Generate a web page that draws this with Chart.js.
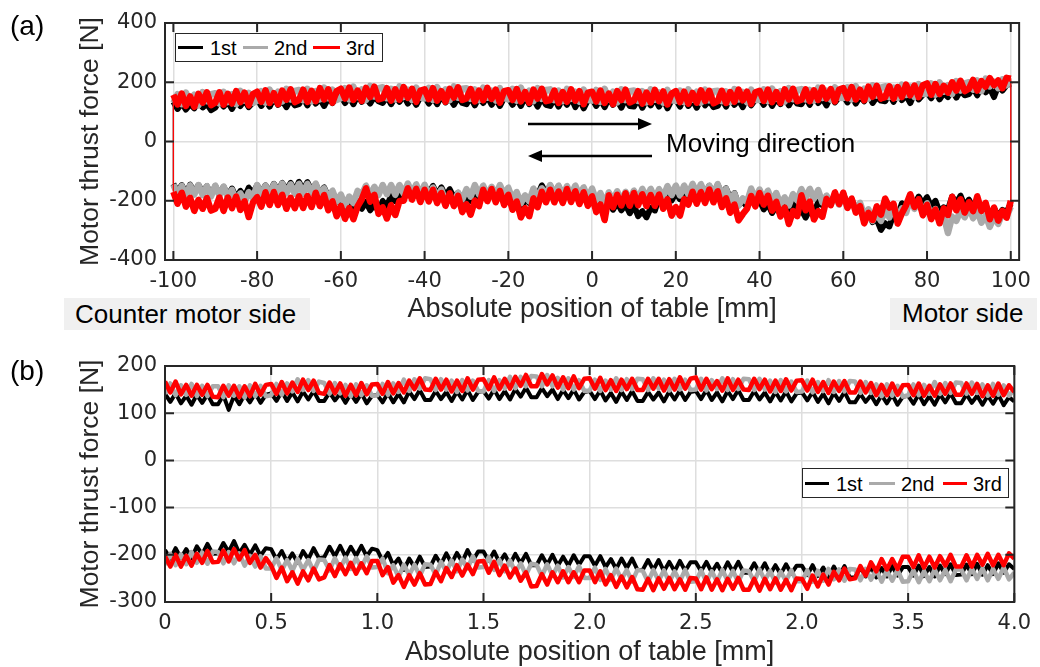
<!DOCTYPE html>
<html><head><meta charset="utf-8">
<script src="https://cdn.jsdelivr.net/npm/chart.js@4.4.1/dist/chart.umd.min.js"></script>
<style>
html,body{margin:0;padding:0;background:#fff;}
#wrap{position:relative;width:1040px;height:667px;overflow:hidden;font-family:"Liberation Sans",Arial,sans-serif;}
canvas{position:absolute;left:0;}
.t{position:absolute;white-space:nowrap;line-height:1;color:#000;}
.box{position:absolute;background:#f0f0f0;}
.leg{position:absolute;box-sizing:border-box;border:1.5px solid #262626;background:#fff;}
.ln{position:absolute;height:3px;}
</style></head><body>
<div id="wrap">
<canvas id="c1" width="1040" height="335" style="top:0"></canvas>
<canvas id="c2" width="1040" height="332" style="top:335px"></canvas>

<div class="t" style="left:10px;top:12px;font-size:28px;">(a)</div>
<div class="t" style="left:10px;top:357px;font-size:28px;">(b)</div>
<div class="box" style="left:64px;top:298px;width:246px;height:32px;"></div>
<div class="t" style="left:75px;top:301px;font-size:26px;">Counter motor side</div>
<div class="box" style="left:890px;top:298px;width:147px;height:32px;"></div>
<div class="t" style="left:902px;top:300px;font-size:26px;">Motor side</div>
<div class="t" style="left:666px;top:130px;font-size:26px;">Moving direction</div>

<div class="leg" style="left:175px;top:33px;width:208px;height:29px;"></div>
<div class="ln" style="left:178px;top:46px;width:25px;background:#000;"></div>
<div class="t" style="left:210px;top:38px;font-size:20px;">1st</div>
<div class="ln" style="left:243px;top:46px;width:25px;background:#aaaaaa;"></div>
<div class="t" style="left:274px;top:38px;font-size:20px;">2nd</div>
<div class="ln" style="left:313px;top:46px;width:27px;background:#ff0000;"></div>
<div class="t" style="left:346px;top:38px;font-size:20px;">3rd</div>

<div class="leg" style="left:802px;top:468px;width:207px;height:30px;"></div>
<div class="ln" style="left:805px;top:482px;width:24px;background:#000;"></div>
<div class="t" style="left:836px;top:474px;font-size:20px;">1st</div>
<div class="ln" style="left:869px;top:482px;width:26px;background:#aaaaaa;"></div>
<div class="t" style="left:901px;top:474px;font-size:20px;">2nd</div>
<div class="ln" style="left:943px;top:482px;width:24px;background:#ff0000;"></div>
<div class="t" style="left:973px;top:474px;font-size:20px;">3rd</div>
</div>
<script>
// ---------- Panel (a): position -100..100 mm, 1 mm step ----------
const xTop = []; for (let x = -100; x <= 100; x++) xTop.push(x);
const xTopTicks = [-100,-80,-60,-40,-20,0,20,40,60,80,100];
const xTopLabels = ['-100','-80','-60','-40','-20','0','20','40','60','80','100'];
const yTopTicks = [-400,-200,0,200,400];
const yTopLabels = ['-400','-200','0','200','400'];

// forward stroke (upper band), indexed by xTop
const red1Fwd = [
158,125,162,120,152,117,161,131,166,123, 131,166,124,161,128,170,133,165,122,160,
168,134,173,130,163,126,172,141,176,133, 140,175,134,171,136,180,142,176,131,170,
178,145,182,140,172,137,181,150,185,142, 146,180,138,176,141,184,147,178,134,172,
176,143,180,138,170,134,178,148,183,140, 145,177,135,172,139,181,144,175,131,170,
173,140,177,135,167,131,175,145,178,136, 140,172,130,167,134,176,138,170,126,165,
168,135,172,130,162,126,170,140,175,132, 138,170,128,165,132,174,136,169,125,162,
170,133,168,128,164,131,173,137,171,129, 136,171,130,167,134,175,139,168,127,166,
171,137,175,133,167,130,176,142,178,136, 141,176,136,173,140,182,145,177,135,175,
180,146,184,142,175,139,185,151,188,145, 150,186,145,184,150,192,156,189,150,190,
196,158,194,160,188,165,200,172,205,170, 178,208,172,204,185,214,190,206,180,215,
212];
const gray1Fwd = [
130,160,126,165,133,158,122,167,136,160, 163,128,168,133,160,126,171,138,164,130,
137,170,131,175,140,168,135,178,142,171, 174,139,178,135,170,142,182,146,175,140,
146,180,142,185,150,176,140,188,152,180, 183,146,178,142,186,150,175,140,182,148,
145,181,140,184,150,176,139,186,148,178, 180,144,176,140,182,148,172,138,180,146,
142,178,138,182,146,172,136,180,144,174, 176,140,172,136,178,144,168,134,175,140,
138,174,134,178,142,168,132,176,140,170, 172,137,170,132,176,141,166,131,174,139,
137,172,133,176,141,168,131,175,139,170, 171,136,169,133,177,142,167,132,175,140,
140,176,136,179,144,170,134,180,143,174, 177,142,174,138,182,147,172,141,183,148,
147,183,142,187,152,178,144,190,155,182, 186,150,182,147,192,157,185,150,194,160,
162,196,158,200,168,190,160,204,172,196, 200,175,206,170,212,186,202,180,210,190,
205];
const black1Fwd = [
134,110,130,108,126,112,136,115,128,106, 114,138,118,134,110,136,120,140,116,132,
144,120,140,118,146,124,138,116,142,122, 126,148,122,150,128,144,120,146,130,152,
154,130,150,126,156,134,148,128,152,136, 130,152,126,150,134,156,128,148,124,150,
152,128,148,126,154,132,146,124,150,130, 126,150,122,148,130,152,124,146,120,148,
148,124,146,120,150,126,144,118,148,124, 120,146,118,144,124,148,116,142,112,140,
144,120,142,116,146,124,140,114,144,120, 118,144,114,140,122,146,118,142,112,140,
142,118,146,120,140,114,144,122,138,116, 120,144,118,146,124,140,116,148,122,142,
146,124,148,120,144,126,150,122,146,128, 126,150,124,152,130,146,122,154,132,150,
154,132,156,128,152,136,158,130,150,138, 136,160,134,162,140,156,130,164,142,158,
166,146,170,142,164,150,176,148,172,156, 160,182,156,186,166,180,150,188,172,190,
195];
// return stroke (lower band), indexed by xTop (drawn from +100 back to -100)
const red1Ret = [
-170,-210,-173,-220,-190,-234,-197,-227,-191,-233, -227,-189,-234,-189,-225,-186,-231,-202,-255,-206,
-188,-220,-172,-214,-171,-214,-180,-227,-190,-225, -185,-224,-184,-221,-173,-218,-181,-232,-202,-252,
-218,-261,-225,-262,-219,-195,-158,-203,-180,-244, -222,-260,-215,-248,-201,-200,-158,-196,-160,-204,
-163,-202,-163,-208,-174,-217,-175,-218,-183,-238, -212,-247,-200,-218,-163,-201,-161,-205,-167,-214,
-180,-230,-203,-256,-225,-252,-192,-222,-170,-205, -163,-205,-169,-207,-161,-204,-168,-211,-172,-217,
-185,-238,-213,-265,-182,-222,-180,-216,-175,-217, -174,-215,-178,-218,-181,-217,-179,-227,-195,-250,
-222,-250,-195,-213,-170,-210,-171,-207,-162,-205, -168,-221,-192,-240,-213,-266,-245,-227,-184,-219,
-174,-213,-183,-233,-204,-253,-223,-278,-235,-252, -182,-232,-203,-263,-235,-254,-194,-215,-172,-211,
-173,-224,-193,-240,-218,-276,-241,-265,-219,-247, -193,-223,-210,-277,-242,-215,-178,-221,-195,-249,
-214,-262,-230,-276,-226,-248,-187,-232,-195,-240, -205,-235,-185,-234,-207,-262,-223,-267,-234,-257,
-200];
const gray1Ret = [
-145,-179,-150,-183,-148,-179,-147,-181,-151,-185, -149,-182,-152,-188,-163,-202,-175,-206,-171,-191,
-147,-180,-149,-180,-145,-172,-142,-175,-145,-176, -143,-176,-143,-173,-142,-181,-158,-195,-166,-203,
-179,-216,-186,-208,-167,-179,-149,-183,-153,-181, -147,-178,-147,-180,-147,-176,-142,-173,-145,-180,
-146,-184,-156,-191,-162,-204,-184,-210,-173,-196, -161,-186,-147,-179,-149,-183,-153,-181,-147,-179,
-156,-196,-171,-208,-182,-202,-159,-190,-158,-183, -147,-179,-149,-183,-151,-181,-149,-181,-155,-191,
-159,-200,-174,-211,-172,-199,-168,-201,-170,-197, -166,-195,-160,-191,-160,-193,-161,-187,-151,-181,
-149,-182,-149,-178,-143,-174,-144,-179,-149,-178, -144,-183,-160,-201,-176,-216,-192,-204,-159,-195,
-162,-197,-166,-202,-174,-212,-189,-216,-178,-199, -161,-192,-160,-193,-164,-206,-183,-213,-180,-213,
-184,-223,-196,-231,-207,-249,-229,-268,-243,-268, -232,-256,-219,-256,-226,-241,-192,-227,-204,-240,
-209,-251,-228,-266,-252,-309,-254,-268,-233,-256, -221,-259,-234,-274,-249,-288,-253,-278,-242,-254,
-220];
const black1Ret = [
-143,-170,-147,-174,-146,-172,-147,-172,-151,-179, -151,-178,-153,-182,-159,-190,-167,-187,-156,-175,
-148,-173,-148,-173,-143,-167,-140,-163,-140,-166, -136,-163,-137,-166,-144,-177,-155,-187,-171,-205,
-193,-224,-205,-231,-202,-227,-204,-232,-213,-235, -201,-218,-183,-202,-169,-191,-159,-181,-151,-174,
-150,-175,-150,-180,-155,-184,-161,-190,-173,-205, -181,-201,-167,-189,-159,-186,-159,-185,-160,-185,
-163,-202,-192,-231,-192,-207,-169,-182,-148,-176, -149,-176,-151,-180,-158,-185,-159,-186,-162,-188,
-168,-206,-193,-231,-204,-230,-206,-232,-213,-242, -216,-252,-235,-256,-224,-233,-187,-208,-178,-199,
-173,-195,-167,-189,-156,-177,-150,-173,-150,-176, -146,-178,-158,-192,-174,-215,-202,-220,-186,-215,
-198,-229,-210,-241,-217,-247,-216,-235,-208,-247, -231,-257,-230,-243,-204,-215,-185,-208,-180,-202,
-178,-212,-196,-231,-214,-250,-236,-272,-263,-298, -276,-287,-245,-253,-209,-228,-194,-212,-186,-210,
-188,-219,-200,-238,-222,-230,-186,-208,-183,-218, -196,-224,-198,-228,-214,-250,-225,-254,-231,-238,
-210];

// ---------- Panel (b): position 0..4 mm, 0.025 mm step ----------
const xBot = []; for (let i = 0; i <= 160; i++) xBot.push(+(i * 0.025).toFixed(3));
const xBotTicks = [0,0.5,1,1.5,2,2.5,3,3.5,4];
const xBotLabels = ['0','0.5','1.0','1.5','2.0','2.5','2.0','3.5','4.0'];
const yBotTicks = [-300,-200,-100,0,100,200];
const yBotLabels = ['-300','-200','-100','0','100','200'];

const red2Up = [
167,144,167,140,160,137,160,139,160,135, 134,158,137,158,134,157,136,162,139,160,
162,141,166,142,165,145,171,149,169,143, 141,165,142,163,137,160,138,164,140,161,
162,141,166,142,164,144,169,151,174,150, 149,173,150,171,146,169,147,174,150,171,
172,151,176,151,173,152,177,158,181,157, 157,183,161,180,154,176,153,178,153,173,
174,152,175,149,170,147,171,151,173,149, 149,173,152,173,148,172,150,176,152,173,
176,150,173,151,168,148,174,149,171,150, 149,173,151,171,146,169,147,172,148,169,
170,148,171,145,166,143,167,147,168,144, 144,167,144,164,138,160,138,163,139,159,
160,138,163,137,158,137,161,141,163,139, 139,163,141,162,136,159,137,163,138,159,
145];
const gray2Up = [
141,163,138,159,139,162,136,158,136,157, 157,134,159,137,157,133,159,136,158,136,
138,162,139,163,146,172,149,170,147,167, 164,141,164,142,160,136,161,138,159,137,
138,162,139,163,145,171,147,172,152,174, 172,149,172,150,169,145,170,148,169,147,
146,170,147,170,152,177,153,177,157,179, 178,157,181,157,175,150,174,150,170,147,
148,171,147,169,150,174,149,172,151,173, 172,149,174,152,171,148,173,150,171,149,
150,173,148,170,151,174,149,172,151,173, 172,149,173,150,169,145,170,146,167,145,
146,169,144,166,147,170,145,168,146,168, 167,143,166,143,161,136,161,137,158,135,
138,161,138,160,141,166,141,164,143,165, 164,141,165,143,161,137,162,139,159,137,
150];
const black2Up = [
141,124,142,121,137,118,139,122,140,119, 119,138,107,137,119,139,123,142,122,139,
142,126,146,126,144,125,146,129,147,126, 126,144,127,141,122,141,124,142,121,137,
139,123,143,123,141,123,146,130,149,128, 128,147,130,145,126,146,129,149,128,145,
147,131,150,130,147,129,151,135,154,134, 134,153,136,150,130,149,132,150,129,145,
147,130,148,127,143,124,146,128,147,126, 126,145,129,144,125,146,129,148,128,145,
147,130,149,128,144,125,147,130,149,128, 128,147,129,144,125,145,127,146,125,142,
144,127,145,124,141,121,143,126,145,123, 123,141,124,138,119,138,121,139,118,135,
137,120,140,119,136,118,140,123,142,121, 121,140,122,137,118,137,120,139,117,134,
125];
const red2Lo = [
-203,-225,-200,-225,-202,-223,-198,-217,-192,-216, -215,-191,-214,-188,-210,-190,-217,-200,-227,-207,
-223,-249,-227,-256,-237,-261,-235,-254,-229,-252, -248,-222,-245,-220,-241,-217,-240,-218,-239,-213,
-213,-243,-226,-259,-243,-268,-243,-263,-239,-263, -262,-236,-256,-228,-247,-222,-244,-221,-241,-214,
-213,-238,-215,-243,-223,-248,-229,-255,-237,-267, -266,-241,-263,-237,-258,-235,-258,-237,-258,-233,
-233,-258,-235,-263,-243,-268,-246,-269,-247,-273, -274,-251,-275,-250,-272,-249,-273,-252,-274,-249,
-250,-273,-248,-274,-252,-275,-251,-272,-249,-274, -274,-251,-276,-251,-273,-250,-274,-253,-275,-250,
-251,-272,-244,-267,-242,-263,-236,-254,-229,-252, -250,-224,-244,-216,-235,-209,-231,-209,-230,-204,
-204,-226,-201,-227,-204,-227,-203,-223,-200,-225, -225,-201,-225,-200,-221,-198,-222,-200,-222,-197,
-208];
const gray2Lo = [
-221,-198,-222,-199,-220,-194,-217,-195,-219,-193, -194,-218,-194,-218,-197,-223,-202,-225,-203,-229,
-229,-207,-233,-211,-234,-209,-232,-211,-235,-210, -211,-233,-207,-229,-206,-230,-207,-227,-203,-227,
-226,-208,-239,-222,-247,-221,-243,-221,-245,-220, -221,-242,-215,-236,-212,-235,-210,-229,-203,-227,
-226,-205,-232,-211,-235,-212,-237,-218,-243,-219, -221,-245,-220,-244,-223,-248,-226,-247,-224,-249,
-249,-227,-253,-230,-253,-229,-252,-232,-257,-232, -234,-257,-232,-255,-233,-258,-235,-256,-232,-257,
-256,-233,-258,-235,-257,-232,-255,-234,-258,-233, -235,-256,-231,-254,-234,-259,-236,-255,-233,-256,
-256,-233,-257,-234,-255,-230,-252,-231,-255,-230, -231,-254,-230,-253,-231,-257,-234,-255,-232,-257,
-256,-233,-258,-235,-256,-231,-254,-232,-256,-231, -231,-254,-229,-251,-229,-254,-230,-251,-227,-252,
-238];
const black2Lo = [
-190,-208,-186,-207,-188,-207,-182,-199,-177,-198, -197,-175,-194,-171,-197,-179,-200,-180,-202,-186,
-188,-210,-192,-215,-197,-217,-192,-209,-186,-207, -205,-183,-203,-181,-204,-183,-202,-181,-203,-187,
-190,-213,-196,-222,-208,-232,-208,-226,-204,-226, -225,-202,-220,-197,-218,-196,-215,-190,-212,-193,
-193,-213,-193,-216,-199,-220,-198,-218,-198,-222, -222,-201,-221,-200,-223,-204,-223,-201,-221,-203,
-203,-223,-203,-226,-209,-230,-208,-228,-208,-232, -232,-211,-232,-211,-235,-215,-235,-213,-234,-216,
-216,-235,-215,-237,-219,-239,-216,-236,-215,-238, -238,-218,-238,-218,-241,-222,-241,-220,-240,-223,
-223,-243,-222,-245,-227,-248,-225,-245,-224,-248, -248,-227,-246,-225,-248,-228,-246,-224,-244,-226,
-226,-244,-223,-245,-226,-246,-223,-241,-220,-243, -242,-221,-241,-219,-242,-222,-241,-218,-238,-220,
-230];

const COL = {black:'#000000', gray:'#aaaaaa', red:'#ff0000'};

// ---------- helpers ----------
function loopPts(fwd, ret) {
  const pts = xTop.map((x, i) => ({x, y: fwd[i]}));
  for (let i = xTop.length - 1; i >= 0; i--) pts.push({x: xTop[i], y: ret[i]});
  pts.push({x: xTop[0], y: fwd[0]});
  return pts;
}
function pts(xs, ys) { return xs.map((x, i) => ({x, y: ys[i]})); }
function ds(label, data, color, order, w) {
  return {label, data, borderColor: color, backgroundColor: color, borderWidth: w,
          borderJoinStyle: 'round', borderCapStyle: 'butt', pointRadius: 0, tension: 0, fill: false, order,
          segment: {borderWidth: c => (c.p0.parsed.x === c.p1.parsed.x ? 1.2 : w)}};
}

const framePlugin = {
  id: 'frame',
  afterDatasetsDraw(chart) {
    const {ctx, chartArea: a, scales: {x, y}} = chart;
    ctx.save();
    ctx.strokeStyle = '#262626';
    ctx.lineWidth = 2;
    ctx.strokeRect(a.left, a.top, a.right - a.left, a.bottom - a.top);
    ctx.beginPath();
    const L = 9;
    x.ticks.forEach(t => {
      const p = x.getPixelForValue(t.value);
      ctx.moveTo(p, a.bottom); ctx.lineTo(p, a.bottom - L);
      ctx.moveTo(p, a.top); ctx.lineTo(p, a.top + L);
    });
    y.ticks.forEach(t => {
      const p = y.getPixelForValue(t.value);
      ctx.moveTo(a.left, p); ctx.lineTo(a.left + L, p);
      ctx.moveTo(a.right, p); ctx.lineTo(a.right - L, p);
    });
    ctx.stroke();
    ctx.restore();
  }
};

const arrowPlugin = {
  id: 'arrows',
  afterDatasetsDraw(chart) {
    const ctx = chart.ctx;
    ctx.save();
    ctx.strokeStyle = '#000'; ctx.fillStyle = '#000'; ctx.lineWidth = 2.5;
    ctx.beginPath(); ctx.moveTo(528, 124); ctx.lineTo(641, 124); ctx.stroke();
    ctx.beginPath(); ctx.moveTo(652, 124); ctx.lineTo(638, 118); ctx.lineTo(638, 130); ctx.closePath(); ctx.fill();
    ctx.beginPath(); ctx.moveTo(539, 156); ctx.lineTo(652, 156); ctx.stroke();
    ctx.beginPath(); ctx.moveTo(528, 156); ctx.lineTo(542, 150); ctx.lineTo(542, 162); ctx.closePath(); ctx.fill();
    ctx.restore();
  }
};

function makeOptions(o) {
  return {
    responsive: false, animation: false, events: [],
    layout: {padding: o.pad},
    plugins: {legend: {display: false}, tooltip: {enabled: false}},
    scales: {
      x: {
        type: 'linear', min: o.xMin, max: o.xMax,
        afterBuildTicks: s => { s.ticks = o.xTicks.map(v => ({value: v})); },
        afterFit: s => { s.height = o.xH; },
        ticks: {callback: (v, i) => o.xLabels[i], font: {family: 'DejaVu Sans', size: 21},
                color: '#262626', padding: 9, maxRotation: 0, autoSkip: false},
        grid: {color: '#dedede', lineWidth: 1.5, drawTicks: false},
        border: {display: false},
        title: {display: true, text: 'Absolute position of table [mm]',
                font: {family: 'Liberation Sans', size: 27, lineHeight: 1},
                color: '#262626', padding: {top: 0, bottom: o.xTitlePad}}
      },
      y: {
        type: 'linear', min: o.yMin, max: o.yMax,
        afterBuildTicks: s => { s.ticks = o.yTicks.map(v => ({value: v})); },
        afterFit: s => { s.width = o.yW; },
        ticks: {callback: (v, i) => o.yLabels[i], font: {family: 'DejaVu Sans', size: 21},
                color: '#262626', padding: 8, autoSkip: false},
        grid: {color: '#dedede', lineWidth: 1.5, drawTicks: false},
        border: {display: false},
        title: {display: true, text: 'Motor thrust force [N]',
                font: {family: 'Liberation Sans', size: 26.5, lineHeight: 1},
                color: '#262626', padding: {top: 0, bottom: 0}}
      }
    }
  };
}

new Chart(document.getElementById('c1'), {
  type: 'line',
  data: {datasets: [
    ds('1st', loopPts(black1Fwd, black1Ret), COL.black, 2, 6),
    ds('2nd', loopPts(gray1Fwd, gray1Ret), COL.gray, 1, 6.5),
    ds('3rd', loopPts(red1Fwd, red1Ret), COL.red, 0, 6.5)
  ]},
  options: makeOptions({pad: {left: 77.5, top: 23, right: 20, bottom: 0}, xH: 75, yW: 87.5,
    xMin: -102, xMax: 102, xTicks: xTopTicks, xLabels: xTopLabels,
    yMin: -400, yMax: 400, yTicks: yTopTicks, yLabels: yTopLabels, xTitlePad: 11.6}),
  plugins: [framePlugin, arrowPlugin]
});

new Chart(document.getElementById('c2'), {
  type: 'line',
  data: {datasets: [
    ds('1st', pts(xBot, black2Up), COL.black, 2, 4),
    ds('1st ', pts(xBot, black2Lo), COL.black, 2, 4),
    ds('2nd', pts(xBot, gray2Up), COL.gray, 1, 4.5),
    ds('2nd ', pts(xBot, gray2Lo), COL.gray, 1, 4.5),
    ds('3rd', pts(xBot, red2Up), COL.red, 0, 4.5),
    ds('3rd ', pts(xBot, red2Lo), COL.red, 0, 4.5)
  ]},
  options: makeOptions({pad: {left: 77.5, top: 31, right: 20, bottom: 0}, xH: 65, yW: 87.5,
    xMin: 0, xMax: 4, xTicks: xBotTicks, xLabels: xBotLabels,
    yMin: -300, yMax: 200, yTicks: yBotTicks, yLabels: yBotLabels, xTitlePad: 1.2}),
  plugins: [framePlugin]
});
</script>
</body></html>
